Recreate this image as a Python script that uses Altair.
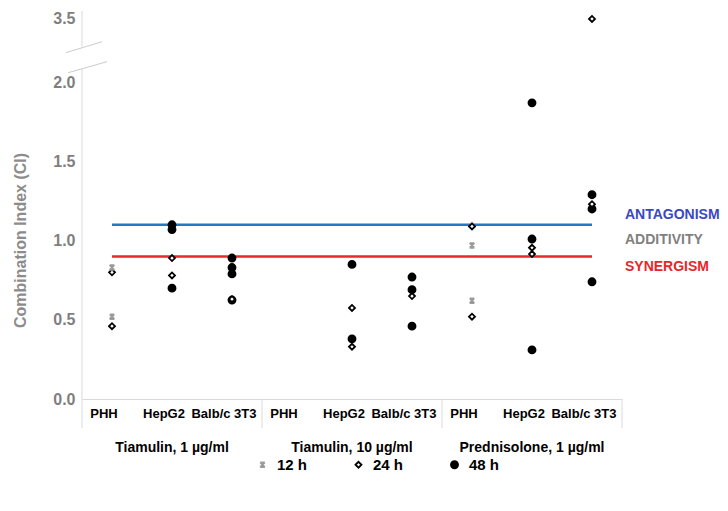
import altair as alt
import pandas as pd

# ---------------- data ----------------
groups = ["Tiamulin, 1 µg/ml", "Tiamulin, 10 µg/ml", "Prednisolone, 1 µg/ml"]
cells = ["PHH", "HepG2", "Balb/c 3T3"]
times = ["12 h", "24 h", "48 h"]

# CI values, per cell line [PHH, HepG2, Balb/c 3T3]
ci_12h_tiam1 = [[0.83, 0.52], [], []]
ci_24h_tiam1 = [[0.80, 0.46], [0.89, 0.78], [0.63]]
ci_48h_tiam1 = [[], [1.10, 1.07, 0.70], [0.89, 0.83, 0.79, 0.625]]

ci_12h_tiam10 = [[], [], []]
ci_24h_tiam10 = [[], [0.575, 0.33], [0.65]]
ci_48h_tiam10 = [[], [0.85, 0.38], [0.77, 0.69, 0.46]]

ci_12h_pred1 = [[0.97, 0.62], [], []]
ci_24h_pred1 = [[1.09, 0.52], [0.955, 0.915], [3.5, 1.23]]
ci_48h_pred1 = [[], [1.87, 1.01, 0.31], [1.29, 1.20, 0.74]]

antagonism_ci = 1.1
synergism_ci = 0.9
zone_labels = ["ANTAGONISM", "ADDITIVITY", "SYNERGISM"]
y_tick_values = [0.0, 0.5, 1.0, 1.5, 2.0, 3.5]

# axis break: values above 2.0 are compressed
break_at = 2.0
compress = 0.4 / 1.5


def ypos(v):
    return v if v <= break_at else break_at + (v - break_at) * compress


series = {
    "48 h": [ci_48h_tiam1, ci_48h_tiam10, ci_48h_pred1],
    "24 h": [ci_24h_tiam1, ci_24h_tiam10, ci_24h_pred1],
    "12 h": [ci_12h_tiam1, ci_12h_tiam10, ci_12h_pred1],
}

keys = [f"{g}|{c}" for g in groups for c in cells]

rows = []
for t, per_group in series.items():
    for g, per_cell in zip(groups, per_group):
        for c, vals in zip(cells, per_cell):
            for v in vals:
                rows.append({"key": f"{g}|{c}", "time": t, "ci": v, "pos": ypos(v)})
points_df = pd.DataFrame(rows)

lines_df = pd.DataFrame(
    [{"name": n, "key": k, "ci": v}
     for n, v in [("ANTAGONISM", antagonism_ci), ("SYNERGISM", synergism_ci)]
     for k in (keys[0], keys[-1])]
)

cell_df = pd.DataFrame({"key": keys, "cell": [k.split("|")[1] for k in keys]})
group_df = pd.DataFrame({"group": groups, "key": [f"{g}|{cells[1]}" for g in groups]})
sep_df = pd.DataFrame({"key": [f"{g}|{cells[0]}" for g in groups]})
sep_end_df = pd.DataFrame({"key": [keys[-1]]})

# ---------------- styles ----------------
FONT = "Liberation Sans"
W, H = 540, 388
AXIS_GRAY = "#d9d9d9"
BLUE_LINE = "#2378c3"
RED_LINE = "#e8292d"

xscale = alt.Scale(type="band", domain=keys, paddingInner=0, paddingOuter=0)
yscale = alt.Scale(domain=[0, 2.45], nice=False, zero=False)

tick_pos = [ypos(v) for v in y_tick_values]
label_expr = (
    f"datum.value > {break_at + 1e-6} ? "
    f"format({break_at} + (datum.value - {break_at}) / {compress}, '.1f') : "
    f"format(datum.value, '.1f')"
)

xaxis = alt.Axis(
    labels=False, domain=True, domainColor=AXIS_GRAY, domainWidth=1,
    ticks=False, grid=False, title=None,
)
yaxis = alt.Axis(
    values=tick_pos, labelExpr=label_expr,
    domain=False, ticks=False, grid=False,
    labelFont=FONT, labelFontSize=16, labelFontWeight="bold", labelColor="#7f7f7f",
    labelPadding=7,
    title="Combination Index (CI)", titleFont=FONT, titleFontSize=16,
    titleFontWeight="bold", titleColor="#8c8c8c",
    titleX=-62, titleY=229, titleAlign="center", titleBaseline="middle", titleAngle=270,
)

X = alt.X("key:N", scale=xscale, axis=xaxis)
Y = alt.Y("pos:Q", scale=yscale, axis=yaxis)

x_path = "M-1,-1L1,-1M-1,1L1,1M-1,-1L1,1M1,-1L-1,1"

legend = alt.Legend(
    orient="none", legendX=173, legendY=446, direction="horizontal", title=None,
    labelFont=FONT, labelFontSize=15, labelFontWeight="bold", labelColor="black",
    columnPadding=43, labelOffset=7, symbolStrokeWidth=1.8,
)

points = alt.Chart(points_df).mark_point(opacity=1, strokeWidth=1.8).encode(
    x=X,
    y=Y,
    shape=alt.Shape("time:N", scale=alt.Scale(domain=times, range=[x_path, "diamond", "circle"]), legend=legend),
    fill=alt.Fill("time:N", scale=alt.Scale(domain=times, range=["#9a9a9a", "white", "black"]), legend=legend),
    stroke=alt.Stroke("time:N", scale=alt.Scale(domain=times, range=["#9a9a9a", "black", "black"]), legend=legend),
    size=alt.Size("time:N", scale=alt.Scale(domain=times, range=[22, 50, 36]), legend=legend),
)

ref_lines = alt.Chart(lines_df).mark_line(strokeWidth=2.5).encode(
    x=X,
    y=alt.Y("ci:Q", scale=yscale, axis=yaxis),
    detail="name:N",
    color=alt.Color("name:N", scale=alt.Scale(domain=["ANTAGONISM", "SYNERGISM"], range=[BLUE_LINE, RED_LINE]), legend=None),
)

zone_colors = ["#3a48c4", "#808080", "#e8262a"]
zone_y = [204, 229, 256]
zone_texts = [
    alt.Chart(alt.Data(values=[{"t": lab}])).mark_text(
        font=FONT, fontSize=14, fontWeight="bold", color=col, align="left", baseline="middle"
    ).encode(text="t:N", x=alt.value(543), y=alt.value(yy))
    for lab, col, yy in zip(zone_labels, zone_colors, zone_y)
]

cell_text = alt.Chart(cell_df).mark_text(
    font=FONT, fontSize=13, fontWeight="bold", color="black", baseline="middle", dx=-8
).encode(x=X, y=alt.value(H + 15), text="cell:N")

group_text = alt.Chart(group_df).mark_text(
    font=FONT, fontSize=14, fontWeight="bold", color="black", baseline="middle"
).encode(x=X, y=alt.value(H + 49), text="group:N")

seps = alt.Chart(sep_df).mark_rule(color=AXIS_GRAY, strokeWidth=1).encode(
    x=alt.X("key:N", scale=xscale, axis=xaxis, bandPosition=0),
    y=alt.value(H), y2=alt.value(H + 29),
)
sep_end = alt.Chart(sep_end_df).mark_rule(color=AXIS_GRAY, strokeWidth=1).encode(
    x=alt.X("key:N", scale=xscale, axis=xaxis, bandPosition=1),
    y=alt.value(H), y2=alt.value(H + 29),
)

one = alt.Data(values=[{}])
axis_low = alt.Chart(one).mark_rule(color=AXIS_GRAY, strokeWidth=1).encode(
    x=alt.value(0), y=alt.datum(0, scale=yscale), y2=alt.datum(2.085)
)
axis_high = alt.Chart(one).mark_rule(color=AXIS_GRAY, strokeWidth=1).encode(
    x=alt.value(0), y=alt.datum(2.225, scale=yscale), y2=alt.datum(2.45)
)
brk1 = alt.Chart(one).mark_rule(color="#cccccc", strokeWidth=1).encode(
    x=alt.value(-16), x2=alt.value(20), y=alt.datum(2.187, scale=yscale), y2=alt.datum(2.256)
)
brk2 = alt.Chart(one).mark_rule(color="#cccccc", strokeWidth=1).encode(
    x=alt.value(-14), x2=alt.value(25), y=alt.datum(2.06, scale=yscale), y2=alt.datum(2.13)
)

chart = alt.layer(
    ref_lines, points, seps, sep_end, cell_text, group_text,
    axis_low, axis_high, brk1, brk2, *zone_texts
).properties(
    width=W, height=H,
    padding={"left": 74, "top": 3, "right": 98, "bottom": 104},
    autosize="none",
).configure(font=FONT).configure_view(stroke="transparent", strokeWidth=0)

chart.save("out.html", embed_options={"renderer": "svg", "actions": False})
